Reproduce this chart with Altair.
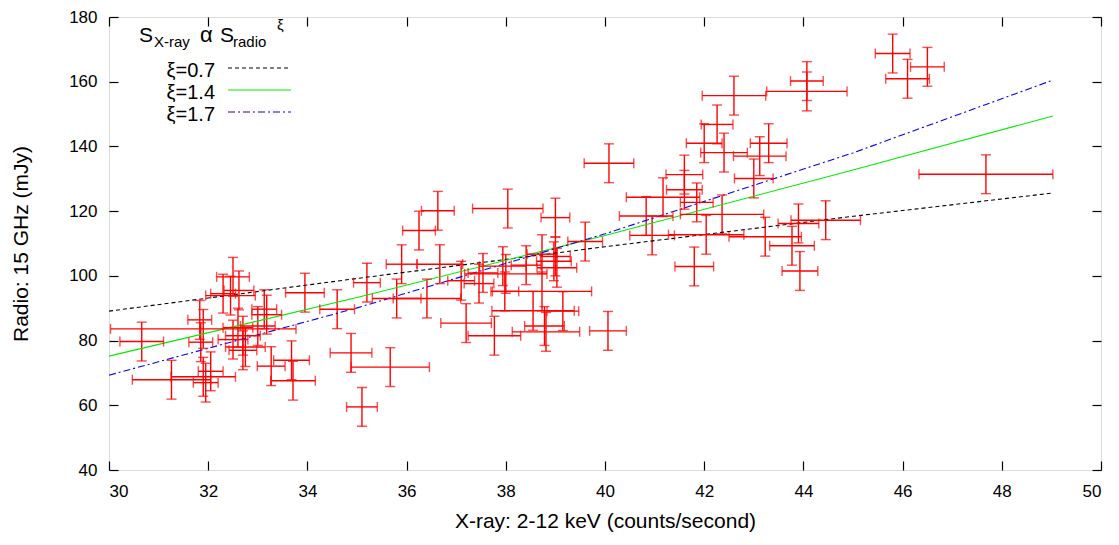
import altair as alt
import pandas as pd

# ---- data ----
x_val = [30.66, 31.9, 31.26, 31.9, 31.95, 32.05, 31.83, 31.85, 32.5, 32.45,
         32.3, 32.62, 32.6, 32.7, 32.5, 32.75, 32.7, 33.13, 33.18, 33.95,
         34.6, 33.68, 33.71, 33.27, 33.0, 34.88, 35.67, 35.1, 35.2, 35.9,
         36.67, 35.8, 36.41, 36.25, 36.63, 37.1, 37.54, 37.46, 37.2, 37.77,
         37.98, 38.04, 37.94, 38.41, 38.0, 38.73, 39.0, 38.97, 39.03, 39.0,
         38.55, 38.81, 38.78, 39.15, 38.73, 39.6, 40.06, 40.08, 42.6, 44.07,
         44.07, 42.26, 42.0, 42.4, 43.3, 43.12, 43.0, 41.6, 41.6, 41.17,
         41.85, 40.83, 42.36, 40.95, 42.04, 43.23, 41.8, 43.77, 43.93, 43.9,
         44.45, 45.8, 46.5, 46.1, 47.68]
y_val = [79.7, 83.6, 67.9, 68.8, 67.0, 70.5, 86.4, 79.5, 99.7, 93.9,
         94.5, 95.5, 84.0, 81.5, 80.3, 78.0, 77.0, 89.7, 88.0, 94.8,
         89.7, 73.9, 67.6, 72.1, 84.5, 76.2, 71.8, 59.5, 97.9, 103.6,
         103.6, 93.0, 93.0, 114.0, 120.1, 98.5, 100.9, 97.6, 85.4, 81.5,
         95.2, 120.8, 103.0, 103.3, 100.6, 106.7, 106.0, 104.5, 102.5, 118.0,
         89.2, 82.7, 84.5, 89.1, 95.2, 110.6, 83.0, 134.8, 155.7, 160.2,
         157.0, 146.8, 141.0, 138.1, 141.0, 137.0, 130.1, 131.3, 126.6, 124.3,
         122.7, 118.5, 119.0, 112.5, 112.7, 112.1, 102.9, 109.3, 101.5, 116.2,
         117.2, 168.7, 164.6, 160.9, 131.4]
x_err = [0.44, 1.87, 0.79, 0.65, 0.25, 0.25, 0.24, 0.24, 0.33, 0.5,
         0.25, 0.3, 0.3, 0.35, 0.3, 0.4, 0.28, 0.25, 0.3, 0.39,
         0.35, 0.36, 0.45, 0.28, 0.35, 0.42, 0.79, 0.31, 0.27, 0.31,
         0.46, 0.49, 0.68, 0.33, 0.33, 0.27, 0.3, 0.3, 0.51, 0.53,
         0.28, 0.71, 0.47, 0.3, 0.83, 0.3, 0.3, 0.35, 0.4, 0.29,
         0.83, 0.68, 0.4, 0.32, 1.0, 0.35, 0.37, 0.5, 0.64, 0.33,
         0.81, 0.32, 0.36, 0.47, 0.37, 0.53, 0.39, 0.37, 0.36, 0.74,
         0.33, 0.54, 0.84, 0.45, 0.76, 0.73, 0.39, 0.45, 0.36, 0.41,
         0.7, 0.35, 0.34, 0.44, 1.35]
y_err = [6.0] * len(x_val)

fit_x = [30.0, 35.0, 40.0, 45.0, 49.03]
fit_07 = [89.1, 99.2, 109.0, 118.4, 125.6]
fit_14 = [75.2, 93.3, 112.5, 132.7, 149.4]
fit_17 = [69.3, 90.1, 113.0, 138.0, 160.5]

x_ticks = [30, 32, 34, 36, 38, 40, 42, 44, 46, 48, 50]
y_ticks = [40, 60, 80, 100, 120, 140, 160, 180]
legend_labels = ["\u03be=0.7", "\u03be=1.4", "\u03be=1.7"]

FONT = "Liberation Sans"
RED = "#ff0000"
W, H = 992, 453

df = pd.DataFrame({"x": x_val, "y": y_val, "xe": x_err, "ye": y_err})
df["xlo"] = df.x - df.xe
df["xhi"] = df.x + df.xe
df["ylo"] = df.y - df.ye
df["yhi"] = df.y + df.ye

vcap = pd.concat([pd.DataFrame({"cx": df.x, "cy": df.ylo}),
                  pd.DataFrame({"cx": df.x, "cy": df.yhi})])
hcap = pd.concat([pd.DataFrame({"cx": df.xlo, "cy": df.y}),
                  pd.DataFrame({"cx": df.xhi, "cy": df.y})])

fit = pd.DataFrame({"x": fit_x * 3,
                    "y": fit_07 + fit_14 + fit_17,
                    "s": ["a"] * 5 + ["b"] * 5 + ["c"] * 5})

xs = alt.Scale(domain=[30, 50], nice=False, zero=False)
ys = alt.Scale(domain=[40, 180], nice=False, zero=False)

main_x = alt.Axis(orient="bottom", values=x_ticks, ticks=False, domain=False, grid=False,
                  labelFont=FONT, labelFontSize=17, labelFontWeight="normal",
                  labelColor="black", labelPadding=13,
                  title="X-ray: 2-12 keV (counts/second)", titleFont=FONT, titleFontSize=21,
                  titleFontWeight="normal", titleColor="black", titlePadding=11)
main_y = alt.Axis(orient="left", values=y_ticks, ticks=False, domain=False, grid=False,
                  labelFont=FONT, labelFontSize=17, labelFontWeight="normal",
                  labelColor="black", labelPadding=12,
                  title="Radio: 15 GHz (mJy)", titleFont=FONT, titleFontSize=21,
                  titleFontWeight="normal", titleColor="black", titlePadding=37)


def tick_axis(orient, vals):
    return alt.Axis(orient=orient, values=vals, offset=-9, ticks=True, tickSize=9,
                    tickColor="black", tickWidth=1.2, labels=False, domain=False,
                    grid=False, title=None)


def X(field):
    return alt.X(field, scale=xs, axis=None)


def Y(field):
    return alt.Y(field, scale=ys, axis=None)


vbars = alt.Chart(df).mark_rule(color=RED, strokeWidth=1.4).encode(
    x=alt.X("x:Q", scale=xs, axis=main_x),
    y=alt.Y("ylo:Q", scale=ys, axis=main_y),
    y2="yhi:Q")
hbars = alt.Chart(df).mark_rule(color=RED, strokeWidth=1.4).encode(
    x=X("xlo:Q"), x2="xhi:Q", y=Y("y:Q"))
vcaps = alt.Chart(vcap).mark_tick(color=RED, orient="horizontal", size=10, thickness=1.4).encode(
    x=X("cx:Q"), y=Y("cy:Q"))
hcaps = alt.Chart(hcap).mark_tick(color=RED, orient="vertical", size=10, thickness=1.4).encode(
    x=X("cx:Q"), y=Y("cy:Q"))

base_fit = alt.Chart(fit)
l07 = base_fit.transform_filter(alt.datum.s == "a").mark_line(
    color="black", strokeWidth=1.1, strokeDash=[4, 3]).encode(x=X("x:Q"), y=Y("y:Q"))
l14 = base_fit.transform_filter(alt.datum.s == "b").mark_line(
    color="#00ee00", strokeWidth=1.1).encode(x=X("x:Q"), y=Y("y:Q"))
l17 = base_fit.transform_filter(alt.datum.s == "c").mark_line(
    color="#0000ff", strokeWidth=1.1, strokeDash=[7, 3, 2, 3]).encode(x=X("x:Q"), y=Y("y:Q"))

ax_bl = base_fit.mark_point(opacity=0).encode(
    x=alt.X("x:Q", scale=xs, axis=tick_axis("bottom", x_ticks)),
    y=alt.Y("y:Q", scale=ys, axis=tick_axis("left", y_ticks)))
ax_tr = base_fit.mark_point(opacity=0).encode(
    x=alt.X("x:Q", scale=xs, axis=tick_axis("top", x_ticks)),
    y=alt.Y("y:Q", scale=ys, axis=tick_axis("right", y_ticks)))

one = pd.DataFrame({"a": [0]})


def txt(text, x, y, size, align="left"):
    return alt.Chart(one).mark_text(text=text, font=FONT, fontSize=size, color="black",
                                    align=align, baseline="alphabetic").encode(
        x=alt.value(x), y=alt.value(y))


# legend block positioned in plot pixels (plot top is at page y = 17)
legend = [
    txt("S", 30, 25, 21),
    txt("X-ray", 45, 30, 15),
    txt("\u03b1", 91, 25, 22),
    txt("S", 111, 25, 21),
    txt("radio", 124, 30, 15),
    txt("\u03be", 168, 13, 15),
    txt(legend_labels[0], 106, 60, 20, "right"),
    txt(legend_labels[1], 106, 82, 20, "right"),
    txt(legend_labels[2], 106, 104, 20, "right"),
    alt.Chart(one).mark_rule(color="black", strokeWidth=1.1, strokeDash=[4, 3]).encode(
        x=alt.value(119), x2=alt.value(182), y=alt.value(51)),
    alt.Chart(one).mark_rule(color="#00ee00", strokeWidth=1.1).encode(
        x=alt.value(119), x2=alt.value(182), y=alt.value(73)),
    alt.Chart(one).mark_rule(color="#0000ff", strokeWidth=1.1, strokeDash=[7, 3, 2, 3]).encode(
        x=alt.value(119), x2=alt.value(182), y=alt.value(95)),
]

chart = alt.layer(vbars, l07, l14, l17, hbars, hcaps, vcaps, ax_bl, ax_tr, *legend).resolve_axis(
    x="independent", y="independent"
).properties(
    width=W, height=H,
    autosize=alt.AutoSizeParams(type="none"),
    padding={"left": 101, "top": 9, "right": 10, "bottom": 75},
).configure_view(stroke="black", strokeWidth=1.5).configure(background="white")

chart.save("out.html", embed_options={"renderer": "svg", "actions": False})
